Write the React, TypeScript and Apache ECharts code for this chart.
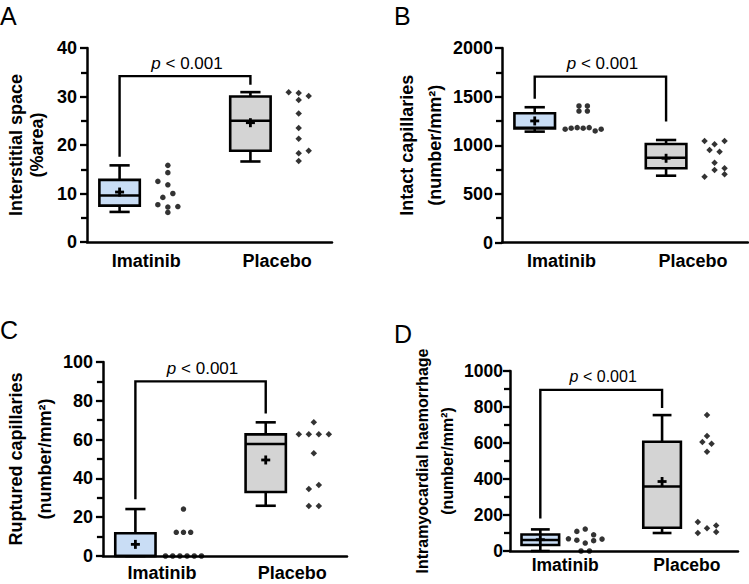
import React, { useEffect, useRef } from 'react';
import * as echarts from 'echarts';

const FONT = 'Liberation Sans, Arial, Helvetica, sans-serif';

// ---------- data ----------
const categories = ['Imatinib', 'Placebo'];

// box stats: [min, q1, median, q3, max]
const aBoxImatinib = [6.2, 7.5, 9.6, 12.8, 15.8];
const aBoxPlacebo = [16.6, 18.8, 25.0, 30.0, 30.9];
const aMeans = [10.3, 24.6];
const aDotsImatinib = [15.8, 14.3, 12.5, 11.8, 10.0, 9.2, 7.7, 7.2, 7.3, 6.1];
const aLanesImatinib = [0, 0, -2, 0, 1, -1, -2, 0, 2, 0];
const aDotsPlacebo = [30.9, 30.7, 30.1, 29.3, 26.5, 23.5, 21.3, 18.3, 18.8, 16.7];
const aLanesPlacebo = [-2, 0, 2, 0, 0, 0, 0, 0, 2, 0];
const aBracket = [34.2, 17.6, 32.4]; // top, left leg end, right leg end
const aTicks = [0, 10, 20, 30, 40];

const bBoxImatinib = [1140, 1172, 1180, 1329, 1391];
const bBoxPlacebo = [687, 763, 872, 1013, 1054];
const bMeans = [1250, 866];
const bDotsImatinib = [1404, 1404, 1352, 1352, 1165, 1175, 1181, 1175, 1181, 1147, 1165];
const bLanesImatinib = [-0.7, 0.7, -0.7, 0.7, -3, -2, -1, 0, 1, 2, 3];
const bDotsPlacebo = [1044, 1010, 1044, 952, 934, 821, 746, 763, 702, 677];
const bLanesPlacebo = [-2, 0, 2, -1, 1, 0, 0, 2, 2, -2];
const bBracket = [1706, 1479, 1243];
const bTicks = [0, 500, 1000, 1500, 2000];

const cBoxImatinib = [0, 0, 0, 11.7, 24.2];
const cBoxPlacebo = [25.9, 33.0, 57.7, 62.7, 68.9];
const cMeans = [6.0, 49.5];
const cDotsImatinib = [24.2, 12.2, 12.2, 12.2, 0, 0, 0, 0, 0, 0];
const cLanesImatinib = [0, -2, 0, 2, -5, -3, -1, 1, 3, 5];
const cDotsPlacebo = [68.9, 62.7, 62.7, 62.7, 62.7, 52.9, 36.6, 34.5, 25.8, 25.8];
const cLanesPlacebo = [0, -3, -1, 1, 3, 0, 1, -1, -1, 1];
const cBracket = [90, 29.2, 73.4];
const cTicks = [0, 20, 40, 60, 80, 100];

const dBoxImatinib = [0, 33, 61, 92, 120];
const dBoxPlacebo = [100, 129, 358, 607, 755];
const dMeans = [63, 386];
const dDotsImatinib = [122, 109, 90, 68, 66, 60, 57, 44, 0, 0];
const dLanesImatinib = [0, -2, 2, -4, 4, -2, 2, 0, -1, 1];
const dDotsPlacebo = [755, 639, 606, 596, 552, 161, 142, 127, 105, 100];
const dLanesPlacebo = [0, 0, -1, 1, 0, -2, 2, 0, 2, -2];
const dBracket = [895, 181, 794];
const dTicks = [0, 200, 400, 600, 800, 1000];

const pText = 'p < 0.001';

// ---------- layout / style ----------
const GROUP_X = [24.2, 77.6]; // on a 0..100 horizontal scale
const BOX_SHIFT = -10.9;
const DOT_SHIFT = 8.8;
const BOX_W = 16.5;
const FILLS = ['#c9ddf5', '#d4d4d4'];
const LINE = '#000000';
const LW = 2.6;

type Panel = {
  letter: string;
  letterPos: [number, number];
  grid: { left: number; top: number; width: number; height: number };
  ticks: number[];
  title: string;
  titleSize: number;
  titleLH: number;
  titleGap: number;
  labelSize: number;
  xLabelMargin: number;
  yLabelMargin: number;
  pSize: number;
  boxes: number[][];
  means: number[];
  dots: number[][];
  lanes: number[][];
  laneStep: number[];
  bracket: number[];
};

const panels: Panel[] = [
  {
    letter: 'A', letterPos: [0, 3],
    grid: { left: 87, top: 48, width: 245, height: 194 },
    ticks: aTicks, title: 'Interstitial space\n(%area)', titleSize: 18, titleLH: 21, titleGap: 40,
    labelSize: 18, xLabelMargin: 10, yLabelMargin: 10, pSize: 17,
    boxes: [aBoxImatinib, aBoxPlacebo], means: aMeans,
    dots: [aDotsImatinib, aDotsPlacebo], lanes: [aLanesImatinib, aLanesPlacebo], laneStep: [5, 5],
    bracket: aBracket,
  },
  {
    letter: 'B', letterPos: [394, 3],
    grid: { left: 502, top: 48, width: 246, height: 194.5 },
    ticks: bTicks, title: 'Intact capillaries\n(number/mm²)', titleSize: 18, titleLH: 28, titleGap: 51,
    labelSize: 18, xLabelMargin: 9, yLabelMargin: 9, pSize: 17,
    boxes: [bBoxImatinib, bBoxPlacebo], means: bMeans,
    dots: [bDotsImatinib, bDotsPlacebo], lanes: [bLanesImatinib, bLanesPlacebo], laneStep: [6, 5],
    bracket: bBracket,
  },
  {
    letter: 'C', letterPos: [0, 317],
    grid: { left: 100, top: 362, width: 247, height: 194 },
    ticks: cTicks, title: 'Ruptured capillaries\n(number/mm²)', titleSize: 18, titleLH: 29, titleGap: 39,
    labelSize: 18, xLabelMargin: 8, yLabelMargin: 10, pSize: 17,
    boxes: [cBoxImatinib, cBoxPlacebo], means: cMeans,
    dots: [cDotsImatinib, cDotsPlacebo], lanes: [cLanesImatinib, cLanesPlacebo], laneStep: [3.6, 5],
    bracket: cBracket,
  },
  {
    letter: 'D', letterPos: [394, 321],
    grid: { left: 510, top: 371, width: 228, height: 180 },
    ticks: dTicks, title: 'Intramyocardial haemorrhage\n(number/mm²)', titleSize: 16, titleLH: 25, titleGap: 46,
    labelSize: 17.5, xLabelMargin: 5, yLabelMargin: 7, pSize: 16,
    boxes: [dBoxImatinib, dBoxPlacebo], means: dMeans,
    dots: [dDotsImatinib, dDotsPlacebo], lanes: [dLanesImatinib, dLanesPlacebo], laneStep: [4.2, 4.6],
    bracket: dBracket,
  },
];

function buildOption() {
  const grid: any[] = [];
  const xAxis: any[] = [];
  const yAxis: any[] = [];
  const series: any[] = [];
  const graphic: any[] = [];

  panels.forEach((p, i) => {
    grid.push({ ...p.grid, containLabel: false });
    xAxis.push({
      gridIndex: i,
      type: 'value',
      min: 0,
      max: 100,
      splitLine: { show: false },
      axisTick: { show: false },
      axisLine: { show: true, onZero: false, lineStyle: { color: LINE, width: 2.5 } },
      axisLabel: {
        show: true,
        customValues: GROUP_X,
        formatter: (v: number) => {
          let best = 0;
          GROUP_X.forEach((g, k) => {
            if (Math.abs(g - v) < Math.abs(GROUP_X[best] - v)) best = k;
          });
          return categories[best];
        },
        margin: p.xLabelMargin,
        color: '#000',
        fontFamily: FONT,
        fontWeight: 'bold',
        fontSize: p.labelSize,
      },
    });
    const maxV = p.ticks[p.ticks.length - 1];
    yAxis.push({
      gridIndex: i,
      type: 'value',
      min: 0,
      max: maxV,
      interval: p.ticks[1] - p.ticks[0],
      name: p.title,
      nameLocation: 'middle',
      nameGap: p.titleGap,
      nameTextStyle: {
        fontFamily: FONT,
        fontWeight: 'bold',
        fontSize: p.titleSize,
        lineHeight: p.titleLH,
        color: '#000',
      },
      splitLine: { show: false },
      axisLine: { show: true, onZero: false, lineStyle: { color: LINE, width: 2.5 } },
      axisTick: { show: true, inside: false, length: 7, lineStyle: { color: LINE, width: 2.3 } },
      minorTick: { show: true, splitNumber: 2, length: 6, lineStyle: { color: LINE, width: 2.3 } },
      minorSplitLine: { show: false },
      axisLabel: {
        margin: p.yLabelMargin,
        color: '#000',
        fontFamily: FONT,
        fontWeight: 'bold',
        fontSize: p.labelSize,
        formatter: (v: number) => String(v),
      },
    });

    // box plots
    const boxData = p.boxes.map((b, k) => [GROUP_X[k] + BOX_SHIFT, ...b, p.means[k]]);
    series.push({
      type: 'custom',
      xAxisIndex: i,
      yAxisIndex: i,
      data: boxData,
      encode: { x: 0, y: [1, 2, 3, 4, 5] },
      z: 3,
      renderItem: (params: any, api: any) => {
        const x = api.value(0);
        const mn = api.value(1), q1 = api.value(2), md = api.value(3), q3 = api.value(4), mx = api.value(5), mean = api.value(6);
        const cx = api.coord([x, md])[0];
        const w = api.size([BOX_W, 0])[0];
        const y = (v: number) => api.coord([x, v])[1];
        const st = { stroke: LINE, lineWidth: LW, fill: null };
        const children: any[] = [
          { type: 'line', shape: { x1: cx, y1: y(q3), x2: cx, y2: y(mx) }, style: st },
          { type: 'line', shape: { x1: cx - w / 4, y1: y(mx), x2: cx + w / 4, y2: y(mx) }, style: st },
          { type: 'line', shape: { x1: cx, y1: y(q1), x2: cx, y2: y(mn) }, style: st },
          { type: 'line', shape: { x1: cx - w / 4, y1: y(mn), x2: cx + w / 4, y2: y(mn) }, style: st },
          {
            type: 'rect',
            shape: { x: cx - w / 2, y: y(q3), width: w, height: y(q1) - y(q3) },
            style: { fill: FILLS[params.dataIndex], stroke: LINE, lineWidth: LW },
          },
          { type: 'line', shape: { x1: cx - w / 2, y1: y(md), x2: cx + w / 2, y2: y(md) }, style: st },
          { type: 'line', shape: { x1: cx - 4.5, y1: y(mean), x2: cx + 4.5, y2: y(mean) }, style: { stroke: LINE, lineWidth: 2.8 } },
          { type: 'line', shape: { x1: cx, y1: y(mean) - 4.5, x2: cx, y2: y(mean) + 4.5 }, style: { stroke: LINE, lineWidth: 2.8 } },
        ];
        return { type: 'group', children };
      },
    });

    // dots
    p.dots.forEach((vals, k) => {
      series.push({
        type: 'scatter',
        xAxisIndex: i,
        yAxisIndex: i,
        symbol: k === 0 ? 'circle' : 'diamond',
        symbolSize: k === 0 ? 5.5 : 6.5,
        itemStyle: { color: '#000' },
        z: 4,
        data: vals.map((v, j) => ({
          value: [GROUP_X[k] + DOT_SHIFT, v],
          symbolOffset: [p.lanes[k][j] * p.laneStep[k], 0],
        })),
      });
    });

    // significance bracket
    series.push({
      type: 'custom',
      xAxisIndex: i,
      yAxisIndex: i,
      data: [[GROUP_X[0] + BOX_SHIFT, GROUP_X[1] + BOX_SHIFT, ...p.bracket]],
      encode: { x: [0, 1], y: [2, 3, 4] },
      z: 3,
      renderItem: (params: any, api: any) => {
        const x1 = api.value(0), x2 = api.value(1);
        const top = api.value(2), lb = api.value(3), rb = api.value(4);
        const a = api.coord([x1, lb]);
        const b = api.coord([x1, top]);
        const c = api.coord([x2, top]);
        const d = api.coord([x2, rb]);
        return {
          type: 'group',
          children: [
            {
              type: 'polyline',
              shape: { points: [a, b, c, d] },
              style: { stroke: LINE, lineWidth: 2.4, fill: null },
            },
            {
              type: 'text',
              x: (b[0] + c[0]) / 2 + 2,
              y: b[1] - 13,
              style: {
                text: '{i|p}{n|' + pText.slice(1) + '}',
                align: 'center',
                verticalAlign: 'middle',
                fill: '#000',
                rich: {
                  i: { fontStyle: 'italic', fontFamily: FONT, fontSize: p.pSize, fill: '#000' },
                  n: { fontFamily: FONT, fontSize: p.pSize, fill: '#000' },
                },
              },
            },
          ],
        };
      },
    });

    graphic.push({
      type: 'text',
      left: p.letterPos[0],
      top: p.letterPos[1],
      style: { text: p.letter, fontFamily: FONT, fontSize: 25, fill: '#000' },
    });
  });

  return {
    animation: false,
    backgroundColor: '#ffffff',
    grid,
    xAxis,
    yAxis,
    series,
    graphic,
  };
}

export default function App() {
  const ref = useRef<HTMLDivElement>(null);
  useEffect(() => {
    if (!ref.current) return;
    const chart = echarts.init(ref.current, undefined, { renderer: 'svg' });
    chart.setOption(buildOption() as any);
    return () => chart.dispose();
  }, []);
  return (
    <div
      ref={ref}
      style={{ position: 'absolute', left: 0, top: 0, width: 749, height: 584, background: '#fff' }}
    />
  );
}
